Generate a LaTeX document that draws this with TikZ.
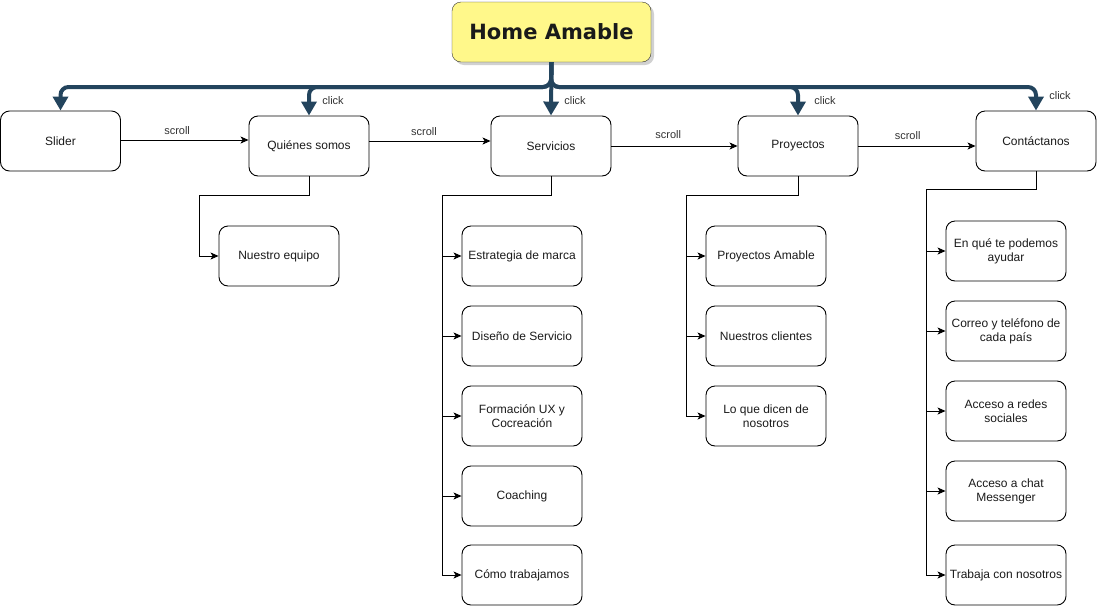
\documentclass[tikz,border=0pt]{standalone}
\usepackage{fontspec}
\setmainfont{Liberation Sans}
\newfontfamily\titlefont{DejaVu Sans}
\usetikzlibrary{arrows.meta,shadows}
\definecolor{busblue}{HTML}{23445D}
\definecolor{noteyellow}{HTML}{FFF88A}
\definecolor{labelgrey}{HTML}{333333}
\definecolor{inkgrey}{HTML}{1A1A1A}
\tikzset{
  box/.style={draw, line width=0.9pt, rounded corners=9pt, minimum width=120pt, minimum height=60pt,
    align=center, inner sep=1pt, text=inkgrey, font=\fontsize{12}{14}\selectfont},
  homebox/.style={draw=black!80, fill=noteyellow, rounded corners=9pt, minimum width=199pt, minimum height=60pt,
    text=inkgrey, font=\titlefont\bfseries\fontsize{21}{25}\selectfont,
    drop shadow={shadow xshift=3pt, shadow yshift=-3pt, fill=black!30, opacity=0.6}},
  bus/.style={draw=busblue, line width=4pt, rounded corners=8pt, -{Triangle[length=14pt,width=15pt]}},
  arr/.style={draw, line width=0.9pt, -{Stealth[length=8pt,width=7pt,inset=2pt]}},
  tagtext/.style={font=\fontsize{11}{13}\selectfont, text=labelgrey},
}
\begin{document}
\begin{tikzpicture}[x=1pt,y=-1pt]
\useasboundingbox (0,0) rectangle (1098,606);

% top level
\node[homebox] (home) at (551.5,32) {Home Amable};
\node[box] (slider) at (60.5,141) {Slider};
\node[box] (quienes) at (309,146) {Quiénes somos};
\node[box] (serv) at (551,146) {Servicios};
\node[box] (proy) at (798,146) {Proyectos};
\node[box] (cont) at (1036,141) {Contáctanos};

% children
\node[box] (equipo) at (279,256) {Nuestro equipo};

\node[box] (marca) at (522,256) {Estrategia de marca};
\node[box] (diseno) at (522,336) {Diseño de Servicio};
\node[box] (formacion) at (522,416) {Formación UX y\\Cocreación};
\node[box] (coaching) at (522,496) {Coaching};
\node[box] (como) at (522,575) {Cómo trabajamos};

\node[box] (proyamable) at (766,256) {Proyectos Amable};
\node[box] (clientes) at (766,336) {Nuestros clientes};
\node[box] (dicen) at (766,416) {Lo que dicen de\\nosotros};

\node[box] (ayudar) at (1006,251) {En qué te podemos\\ayudar};
\node[box] (correo) at (1006,331) {Correo y teléfono de\\cada país};
\node[box] (redes) at (1006,411) {Acceso a redes\\sociales};
\node[box] (chat) at (1006,491) {Acceso a chat\\Messenger};
\node[box] (trabaja) at (1006,575) {Trabaja con nosotros};

% click bus
\coordinate (split) at (551,87);
\draw[bus] (home.south) -- (split) -| (slider.north);
\draw[bus] (home.south) -- (split) -| (quienes.north);
\draw[bus] (home.south) -- (serv.north);
\draw[bus] (home.south) -- (split) -| (proy.north);
\draw[bus] (home.south) -- (split) -| (cont.north);
\node[tagtext] (clickq) at ([xshift=24pt,yshift=15pt]quienes.north) {click};
\node[tagtext] (clicks) at ([xshift=24pt,yshift=15pt]serv.north) {click};
\node[tagtext] (clickp) at ([xshift=27pt,yshift=15pt]proy.north) {click};
\node[tagtext] (clickc) at ([xshift=24pt,yshift=15pt]cont.north) {click};

% scroll
\draw[arr] ([yshift=1pt]slider.east) -- ([yshift=1pt]slider.east -| quienes.west) node[tagtext, pos=0.44, above=2pt] {scroll};
\draw[arr] ([yshift=5pt]quienes.east) -- ([yshift=5pt]serv.west) node[tagtext, pos=0.45, above=2pt] {scroll};
\draw[arr] (serv.east) -- (proy.west) node[tagtext, pos=0.45, above=4pt] {scroll};
\draw[arr] (proy.east) -- (proy.east -| cont.west) node[tagtext, pos=0.42, above=3pt] {scroll};

% branches
\coordinate (qbus) at (199,195);
\coordinate (sbus) at (442,195);
\coordinate (pbus) at (686,195);
\coordinate (cbus) at (926,189);
\draw[arr] (quienes.south) |- (qbus) |- (equipo.west);
\foreach \c in {marca,diseno,formacion,coaching,como}
  \draw[arr] (serv.south) |- (sbus) |- (\c.west);
\foreach \c in {proyamable,clientes,dicen}
  \draw[arr] (proy.south) |- (pbus) |- (\c.west);
\foreach \c in {ayudar,correo,redes,chat,trabaja}
  \draw[arr] (cont.south) |- (cbus) |- (\c.west);
\end{tikzpicture}
\end{document}
